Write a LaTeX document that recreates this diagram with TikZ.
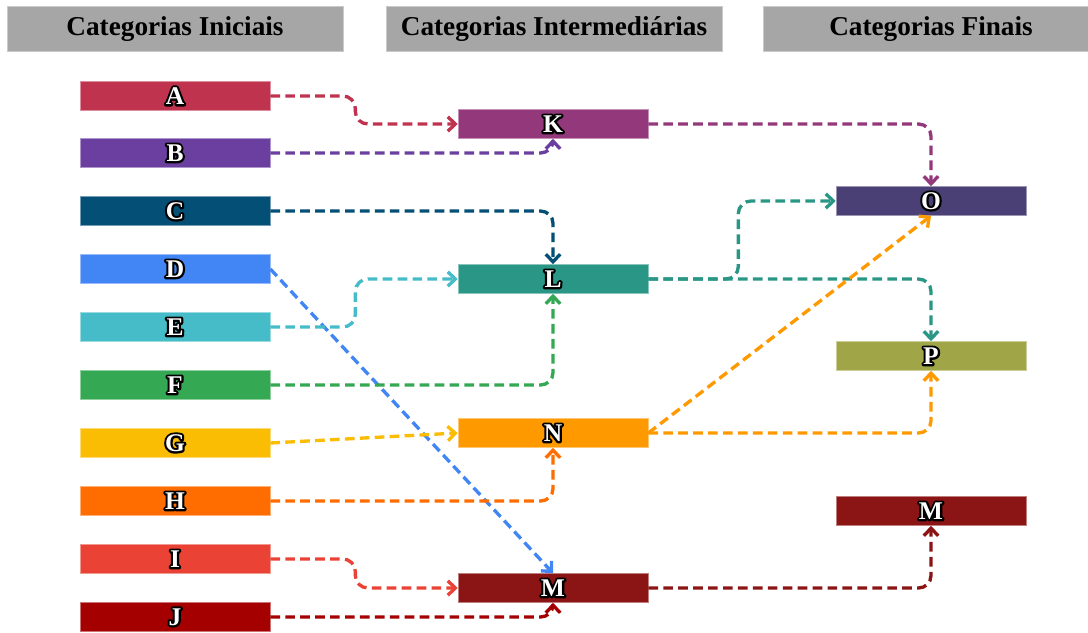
\documentclass[tikz,border=0pt]{standalone}
\usepackage{fontspec}
\setmainfont{Liberation Serif}
\usetikzlibrary{arrows.meta}

\definecolor{headgray}{HTML}{A6A6A6}
\definecolor{cA}{HTML}{C0334F}
\definecolor{cB}{HTML}{6B3FA0}
\definecolor{cC}{HTML}{034F75}
\definecolor{cD}{HTML}{4285F4}
\definecolor{cE}{HTML}{45BCC8}
\definecolor{cF}{HTML}{34A853}
\definecolor{cG}{HTML}{FBBC04}
\definecolor{cH}{HTML}{FF6D01}
\definecolor{cI}{HTML}{EA4335}
\definecolor{cJ}{HTML}{A50000}
\definecolor{cK}{HTML}{93387A}
\definecolor{cL}{HTML}{2A9686}
\definecolor{cN}{HTML}{FF9900}
\definecolor{cM}{HTML}{8B1515}
\definecolor{cO}{HTML}{4B4076}
\definecolor{cP}{HTML}{A0A548}

% white letter with a black outline
\newcommand{\catlbl}[1]{\rlap{\textcolor{black}{\special{pdf:literal direct 1 j 2.4 w 2 Tr}#1\special{pdf:literal direct 0 Tr}}}\textcolor{white}{#1}}

\begin{document}
\begin{tikzpicture}[
  x=0.02cm, y=-0.02cm,
  head/.style={fill=headgray, draw=headgray!60!white, minimum width=6.72cm, minimum height=0.9cm,
               font=\fontsize{15.5}{15.5}\selectfont\bfseries},
  cat/.style ={fill=#1, draw=#1!55!white, line width=0.4pt, minimum width=3.8cm, minimum height=0.58cm,
               inner sep=0pt, font=\fontsize{14.5}{14.5}\selectfont\bfseries},
  link/.style={draw=#1, line width=1.9pt, dash pattern=on 5.5pt off 3pt, rounded corners=0.25cm,
               -{Straight Barb[length=1.5mm, width=2.9mm]}},
]
\useasboundingbox (0,0) rectangle (1088,632);

% --- column headers ---
\node[head] (h1) at (175,29) {Categorias Iniciais};
\node[head] (h2) at (554,29) {Categorias Intermediárias};
\node[head] (h3) at (931,29) {Categorias Finais};

% --- initial categories ---
\node[cat=cA] (A) at (175,96)  {\catlbl{A}};
\node[cat=cB] (B) at (175,153) {\catlbl{B}};
\node[cat=cC] (C) at (175,211) {\catlbl{C}};
\node[cat=cD] (D) at (175,269) {\catlbl{D}};
\node[cat=cE] (E) at (175,327) {\catlbl{E}};
\node[cat=cF] (F) at (175,385) {\catlbl{F}};
\node[cat=cG] (G) at (175,443) {\catlbl{G}};
\node[cat=cH] (H) at (175,501) {\catlbl{H}};
\node[cat=cI] (I) at (175,559) {\catlbl{I}};
\node[cat=cJ] (J) at (175,617) {\catlbl{J}};

% --- intermediate categories ---
\node[cat=cK] (K) at (553,124) {\catlbl{K}};
\node[cat=cL] (L) at (553,279) {\catlbl{L}};
\node[cat=cN] (N) at (553,433) {\catlbl{N}};
\node[cat=cM] (M) at (553,588) {\catlbl{M}};

% --- final categories ---
\node[cat=cO] (O)  at (931,201) {\catlbl{O}};
\node[cat=cP] (P)  at (931,356) {\catlbl{P}};
\node[cat=cM] (M2) at (931,511) {\catlbl{M}};

% --- initial -> intermediate ---
\draw[link=cA] (A.east) -- ++(85,0) |- (K.west);
\draw[link=cB] (B.east) -| (K.south);
\draw[link=cC] (C.east) -| (L.north);
\draw[link=cD] (D.east) -- (M.north);
\draw[link=cE] (E.east) -- ++(85,0) |- (L.west);
\draw[link=cF] (F.east) -| (L.south);
\draw[link=cG] (G.east) -- (N.west);
\draw[link=cH] (H.east) -| (N.south);
\draw[link=cI] (I.east) -- ++(85,0) |- (M.west);
\draw[link=cJ] (J.east) -| (M.south);

% --- intermediate -> final ---
\draw[link=cK] (K.east) -| (O.north);
\draw[link=cL] (L.east) -- ++(90,0) |- (O.west);
\draw[link=cL] (L.east) -| (P.north);
\draw[link=cN] (N.east) -- (O.south);
\draw[link=cN] (N.east) -| (P.south);
\draw[link=cM] (M.east) -| (M2.south);

\end{tikzpicture}
\end{document}
